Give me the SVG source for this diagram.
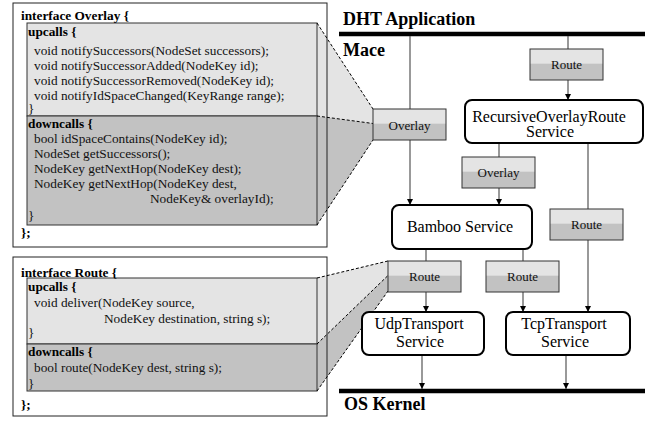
<svg xmlns="http://www.w3.org/2000/svg" width="651" height="427" viewBox="0 0 651 427">
<defs>
<style>
.code{font-family:"Liberation Serif","Times New Roman",serif;font-size:13.3px;fill:#111}
.hdr{font-family:"Liberation Serif","Times New Roman",serif;font-size:13.3px;font-weight:bold;fill:#000}
.big{font-family:"Liberation Serif","Times New Roman",serif;font-size:18px;font-weight:bold;fill:#000}
.svc{font-family:"Liberation Serif","Times New Roman",serif;font-size:16px;fill:#000;text-anchor:middle}
.lbl{font-family:"Liberation Serif","Times New Roman",serif;font-size:13px;fill:#111;text-anchor:middle}
.outer{fill:none;stroke:#222;stroke-width:1}
.up{fill:#e4e4e4;stroke:#333;stroke-width:1}
.down{fill:#c2c2c2;stroke:#333;stroke-width:1}
.lt{fill:#e4e4e4}
.dk{fill:#c2c2c2}
.dash{stroke:#000;stroke-width:1;stroke-dasharray:3,2;fill:none}
.box{fill:#fff;stroke:#000;stroke-width:2}
.lframe{fill:none;stroke:#333;stroke-width:1}
.wire{stroke:#555;stroke-width:1.2;fill:none}
.bar{stroke:#000;stroke-width:4.5}
</style>
<marker id="arr" viewBox="0 0 10 10" refX="10" refY="5" markerWidth="6" markerHeight="6" markerUnits="userSpaceOnUse" orient="auto">
<path d="M0,0 L10,5 L0,10 z" fill="#000"/>
</marker>
<g id="lblbox">
<rect x="0" y="0" width="73" height="14.5" class="lt"/>
<rect x="0" y="14.5" width="73" height="16.5" class="dk"/>
<rect x="0" y="0" width="73" height="31" class="lframe"/>
</g>
</defs>

<g id="projections">
<polygon points="317,23 373,109 373,123.5 317,116" class="lt"/>
<polygon points="317,116 373,123.5 373,140 317,225" class="dk"/>
<polygon points="317,278 388,261 388,275.5 317,344" class="lt"/>
<polygon points="317,344 388,275.5 388,291 317,391" class="dk"/>
</g>

<g id="overlay-interface">
<rect x="13" y="3" width="314" height="244" class="outer"/>
<rect x="27" y="23" width="290" height="93" class="up"/>
<rect x="27" y="116" width="290" height="109" class="down"/>
<text x="21" y="19.5" class="hdr">interface Overlay {</text>
<text x="28" y="36" class="hdr">upcalls {</text>
<text x="34" y="54.5" class="code">void notifySuccessors(NodeSet successors);</text>
<text x="34" y="69.7" class="code">void notifySuccessorAdded(NodeKey id);</text>
<text x="34" y="84.9" class="code">void notifySuccessorRemoved(NodeKey id);</text>
<text x="34" y="100" class="code">void notifyIdSpaceChanged(KeyRange range);</text>
<text x="28" y="113" class="code">}</text>
<text x="28" y="127.5" class="hdr">downcalls {</text>
<text x="34" y="142.5" class="code">bool idSpaceContains(NodeKey id);</text>
<text x="34" y="157.7" class="code">NodeSet getSuccessors();</text>
<text x="34" y="172.9" class="code">NodeKey getNextHop(NodeKey dest);</text>
<text x="34" y="188" class="code">NodeKey getNextHop(NodeKey dest,</text>
<text x="150" y="203.3" class="code">NodeKey&amp; overlayId);</text>
<text x="28" y="220" class="code">}</text>
<text x="21" y="237" class="hdr">};</text>
</g>

<g id="route-interface">
<rect x="13" y="257" width="314" height="159" class="outer"/>
<rect x="27" y="278" width="290" height="66" class="up"/>
<rect x="27" y="344" width="290" height="47" class="down"/>
<text x="21" y="277" class="hdr">interface Route {</text>
<text x="28" y="291" class="hdr">upcalls {</text>
<text x="34" y="307" class="code">void deliver(NodeKey source,</text>
<text x="104" y="323" class="code">NodeKey destination, string s);</text>
<text x="28" y="337" class="code">}</text>
<text x="28" y="356" class="hdr">downcalls {</text>
<text x="34" y="372" class="code">bool route(NodeKey dest, string s);</text>
<text x="28" y="388" class="code">}</text>
<text x="21" y="409" class="hdr">};</text>
</g>

<g id="dashes">
<line x1="317" y1="23" x2="373" y2="109" class="dash"/>
<line x1="317" y1="116" x2="373" y2="123.5" class="dash"/>
<line x1="317" y1="225" x2="373" y2="140" class="dash"/>
<line x1="317" y1="278" x2="388" y2="261" class="dash"/>
<line x1="317" y1="344" x2="388" y2="275.5" class="dash"/>
<line x1="317" y1="391" x2="388" y2="291" class="dash"/>
</g>

<g id="layers">
<line x1="339" y1="34" x2="645" y2="34" class="bar"/>
<text x="343" y="25" class="big">DHT Application</text>
<text x="343" y="56" class="big">Mace</text>
<line x1="339" y1="391" x2="645" y2="391" class="bar"/>
<text x="344" y="410" class="big">OS Kernel</text>
</g>

<g id="connectors">
<line x1="410" y1="36" x2="410" y2="205" class="wire" marker-end="url(#arr)"/>
<line x1="568" y1="36" x2="568" y2="100" class="wire" marker-end="url(#arr)"/>
<line x1="499" y1="143" x2="499" y2="205" class="wire" marker-end="url(#arr)"/>
<line x1="588" y1="143" x2="588" y2="312" class="wire" marker-end="url(#arr)"/>
<line x1="426" y1="249" x2="426" y2="312" class="wire" marker-end="url(#arr)"/>
<line x1="523" y1="249" x2="523" y2="312" class="wire" marker-end="url(#arr)"/>
<line x1="422" y1="355" x2="422" y2="389" class="wire" marker-end="url(#arr)"/>
<line x1="566" y1="355" x2="566" y2="389" class="wire" marker-end="url(#arr)"/>
</g>

<g id="label-overlay-1">
<use href="#lblbox" x="373" y="109"/>
<text x="409.5" y="130" class="lbl">Overlay</text>
</g>
<g id="label-route-top">
<use href="#lblbox" x="530" y="49"/>
<text x="566.5" y="69" class="lbl">Route</text>
</g>
<g id="label-overlay-2">
<use href="#lblbox" x="462" y="157"/>
<text x="498.5" y="177" class="lbl">Overlay</text>
</g>
<g id="label-route-right">
<use href="#lblbox" x="550" y="209"/>
<text x="586.5" y="229" class="lbl">Route</text>
</g>
<g id="label-route-udp">
<use href="#lblbox" x="388" y="261"/>
<text x="424.5" y="281" class="lbl">Route</text>
</g>
<g id="label-route-tcp">
<use href="#lblbox" x="486" y="261"/>
<text x="522.5" y="281" class="lbl">Route</text>
</g>

<g id="recursive-overlay-route">
<rect x="465" y="100" width="178" height="43" rx="7" class="box"/>
<text x="549" y="121.5" class="svc">RecursiveOverlayRoute</text>
<text x="550" y="137" class="svc">Service</text>
</g>
<g id="bamboo">
<rect x="392" y="205" width="140" height="44" rx="7" class="box"/>
<text x="460" y="232" class="svc">Bamboo Service</text>
</g>
<g id="udp">
<rect x="362" y="312" width="122" height="43" rx="7" class="box"/>
<text x="419" y="329" class="svc">UdpTransport</text>
<text x="420" y="347" class="svc">Service</text>
</g>
<g id="tcp">
<rect x="506" y="312" width="124" height="43" rx="7" class="box"/>
<text x="564" y="329" class="svc">TcpTransport</text>
<text x="565" y="347" class="svc">Service</text>
</g>
</svg>
